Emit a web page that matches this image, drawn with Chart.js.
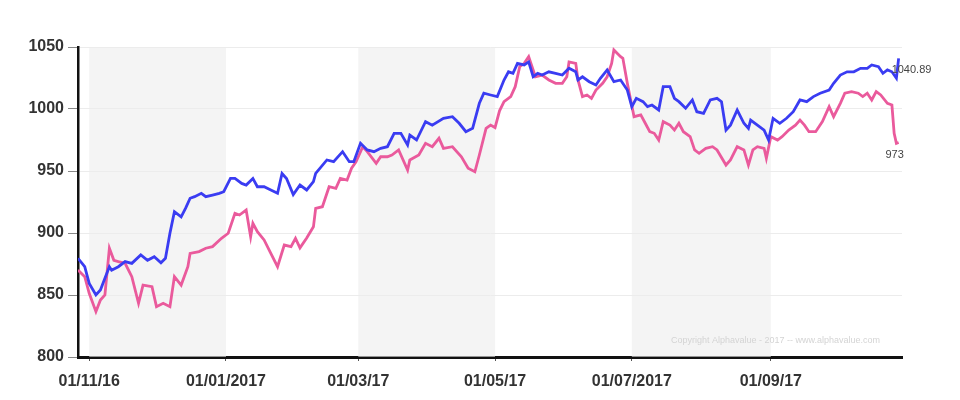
<!DOCTYPE html>
<html>
<head>
<meta charset="utf-8">
<script src="https://cdn.jsdelivr.net/npm/chart.js@4"></script>
<style>
html,body{margin:0;padding:0;background:#fff;}
#wrap{width:960px;height:400px;position:relative;}
</style>
</head>
<body>
<div id="wrap"><canvas id="c"></canvas></div>
<script>
// Days since 01/11/2016
const tickDays = [0, 61, 120, 181, 242, 304];
const tickLabels = ["01/11/16", "01/01/2017", "01/03/17", "01/05/17", "01/07/2017", "01/09/17"];
const shadedBands = [[0, 61], [120, 181], [242, 304]];

const blueDays = [-5,-2,0,3,5,7,9,10,13,16,19,23,26,29,32,34,36,38,41,43,45,47,50,52,55,58,60,63,65,68,70,73,75,78,81,84,86,88,91,94,97,100,101,106,109,113,116,118,121,124,127,130,133,136,139,142,143,146,150,153,158,162,165,168,171,174,176,179,182,185,187,189,191,194,196,198,200,202,205,208,211,214,217,218,220,223,226,228,231,234,237,240,242,244,247,249,251,254,256,259,261,263,266,269,271,274,277,280,282,284,286,289,292,294,295,298,301,303,305,308,311,314,317,320,323,326,330,332,335,338,341,344,347,349,352,354,356,358,360,361];
const blueValues = [879.6,872.8,859.4,850,854,863.5,872.8,870,872.8,876.9,875.5,882.3,878,880.9,876,879.6,899.8,917.2,913,920,928,929.3,932,929.3,930.6,932,933.3,944,944,940,938.7,944,937.3,937.3,934.7,932,948,944,931,938.7,934.7,941.4,948,958.9,957.5,965.6,957.5,957.5,972.3,967,965.6,968.3,969.6,980.4,980.4,971,979,975,989.8,987,992.5,993.8,988.5,981.7,984.4,1004.6,1012.7,1011.3,1010,1023.4,1030,1028.8,1036.8,1035.5,1038,1026,1028.8,1027.4,1030,1028.8,1027.4,1032.8,1030,1023.4,1026,1022,1019.4,1024.8,1031.5,1022,1023.4,1015.3,1001.9,1008.6,1005.9,1001.9,1003.2,999.2,1018,1018,1008.6,1005.9,1000.6,1007.3,997.8,996.5,1007.3,1008.6,1005.9,983,987,999.2,988.5,984.4,991.1,987,983,975,992.5,988.5,992.5,997.8,1007.3,1005.9,1010,1012.7,1015.3,1020.7,1027.4,1030,1030,1032.8,1032.8,1035.5,1034.1,1028.8,1031.5,1030,1024.8,1040.89];

const pinkDays = [-5,-2,0,3,5,7,9,11,13,16,19,22,24,28,30,33,36,38,41,44,45,49,52,55,59,62,65,67,70,72,73,75,78,81,84,87,90,92,94,97,100,101,104,107,110,112,115,117,119,122,124,128,130,133,135,138,142,143,147,150,153,156,158,162,166,169,172,174,177,179,181,183,185,188,190,192,194,196,199,202,205,208,211,213,214,217,218,220,222,224,226,229,231,233,234,237,238,240,243,246,248,250,252,254,256,259,261,263,265,268,270,272,275,278,280,284,286,289,292,294,296,298,301,302,304,307,309,312,315,317,319,321,324,327,330,332,335,337,340,343,345,347,349,351,353,356,358,359,360,361];
const pinkValues = [870.2,864.8,851.4,836.6,846,850,887.7,878,876.9,875.6,864.8,843.3,858,856.7,840.6,843.3,840.6,864.8,858,872.8,883.6,885,887.7,889,895.7,899.8,915.9,914.5,918.5,897,907.8,901,894.4,883.6,872.8,890.3,889,895.7,888,896,905,919.9,921.2,937.3,936,944,942.7,952.2,957.5,969.6,965.6,956.2,961.5,961.5,962.9,967,950.8,958.9,962.9,972.3,969.6,976.4,968.3,969.6,961.5,952.2,949.4,962.9,984.4,987,985,998.5,1005.9,1010,1018,1034.1,1036.8,1042.2,1026,1027.4,1023.4,1020.7,1020.7,1026,1038,1036.8,1023.4,1010,1011.3,1008.6,1015.3,1020.7,1026,1036.8,1047.6,1042.2,1040.9,1020.7,993.8,995.2,988.5,981.7,980.4,975,989.8,987,983,988.5,981.7,977.7,967,964.3,968.3,969.6,967,954.8,958.9,969.6,967,954.8,967,969.6,968.3,960.2,977.7,975,977.7,983,987,991.1,987,981.7,981.7,989.8,1001.9,993.8,1004.6,1012.7,1014,1012.7,1010,1012.7,1007.3,1014,1011.3,1004.6,1003.2,980.4,972.3,973];

const yTicks = [800, 850, 900, 950, 1000, 1050];

function pts(xs, ys){ return xs.map((x,i)=>({x:x, y:ys[i]})); }

const bandPlugin = {
  id: 'bands',
  beforeDatasetsDraw(chart){
    const {ctx, chartArea, scales} = chart;
    ctx.save();
    ctx.fillStyle = 'rgba(236,236,236,0.6)';
    shadedBands.forEach(b=>{
      const x0 = scales.x.getPixelForValue(b[0]);
      const x1 = scales.x.getPixelForValue(b[1]);
      ctx.fillRect(x0, chartArea.top, x1 - x0, chartArea.bottom - chartArea.top);
    });
    ctx.font = '9px "Liberation Sans", Arial, sans-serif';
    ctx.fillStyle = '#d4d4d4';
    ctx.textAlign = 'right';
    ctx.textBaseline = 'middle';
    ctx.fillText('Copyright Alphavalue - 2017 -- www.alphavalue.com', chartArea.right - 22, chartArea.bottom - 16);
    ctx.restore();
  },
  afterDatasetsDraw(chart){
    const {ctx, scales} = chart;
    ctx.save();
    ctx.font = '11px "Liberation Sans", Arial, sans-serif';
    ctx.fillStyle = '#444';
    ctx.textBaseline = 'middle';
    const bi = blueDays.length - 1;
    const bx = scales.x.getPixelForValue(blueDays[bi]);
    const by = scales.y.getPixelForValue(blueValues[bi]);
    ctx.textAlign = 'left';
    ctx.fillText(String(blueValues[bi]), bx - 7, by + 12);
    const pi = pinkDays.length - 1;
    const px = scales.x.getPixelForValue(pinkDays[pi]);
    const py = scales.y.getPixelForValue(pinkValues[pi]);
    ctx.textAlign = 'center';
    ctx.fillText(String(Math.round(pinkValues[pi])), px - 4, py + 12);
    ctx.restore();
  }
};

new Chart(document.getElementById('c'), {
  type: 'line',
  data: {
    datasets: [
      { data: pts(blueDays, blueValues), borderColor: '#3a3cf2', borderWidth: 2.8, pointRadius: 0, tension: 0, fill: false },
      { data: pts(pinkDays, pinkValues), borderColor: '#ea5a9c', borderWidth: 2.8, pointRadius: 0, tension: 0, fill: false }
    ]
  },
  options: {
    responsive: true,
    maintainAspectRatio: false,
    animation: false,
    layout: { padding: { left: 0, right: 58, top: 47, bottom: 0 } },
    plugins: { legend: { display: false }, tooltip: { enabled: false } },
    scales: {
      x: {
        type: 'linear',
        min: -5,
        max: 362.5,
        afterBuildTicks(s){ s.ticks = tickDays.map(v=>({value:v})); },
        afterFit(s){ s.height = 43; },
        ticks: {
          autoSkip: false,
          maxRotation: 0,
          padding: 11,
          color: '#333',
          font: { family: '"Liberation Sans", Arial, sans-serif', size: 16, weight: 'bold' },
          callback(v){ const i = tickDays.indexOf(v); return i >= 0 ? tickLabels[i] : ''; }
        },
        grid: { drawOnChartArea: false, drawTicks: true, tickLength: 4, tickColor: '#555' },
        border: { color: '#111', width: 3 }
      },
      y: {
        min: 800,
        max: 1050,
        afterBuildTicks(s){ s.ticks = yTicks.map(v=>({value:v})); },
        afterFit(s){ s.width = 78; },
        ticks: {
          padding: 4,
          color: '#333',
          font: { family: '"Liberation Sans", Arial, sans-serif', size: 16, weight: 'bold' },
          callback(v){ return String(v); }
        },
        grid: { color: '#ececec', lineWidth: 1, tickLength: 10, tickColor: '#888' },
        border: { color: '#111', width: 2.5 }
      }
    }
  },
  plugins: [bandPlugin]
});
</script>
</body>
</html>
